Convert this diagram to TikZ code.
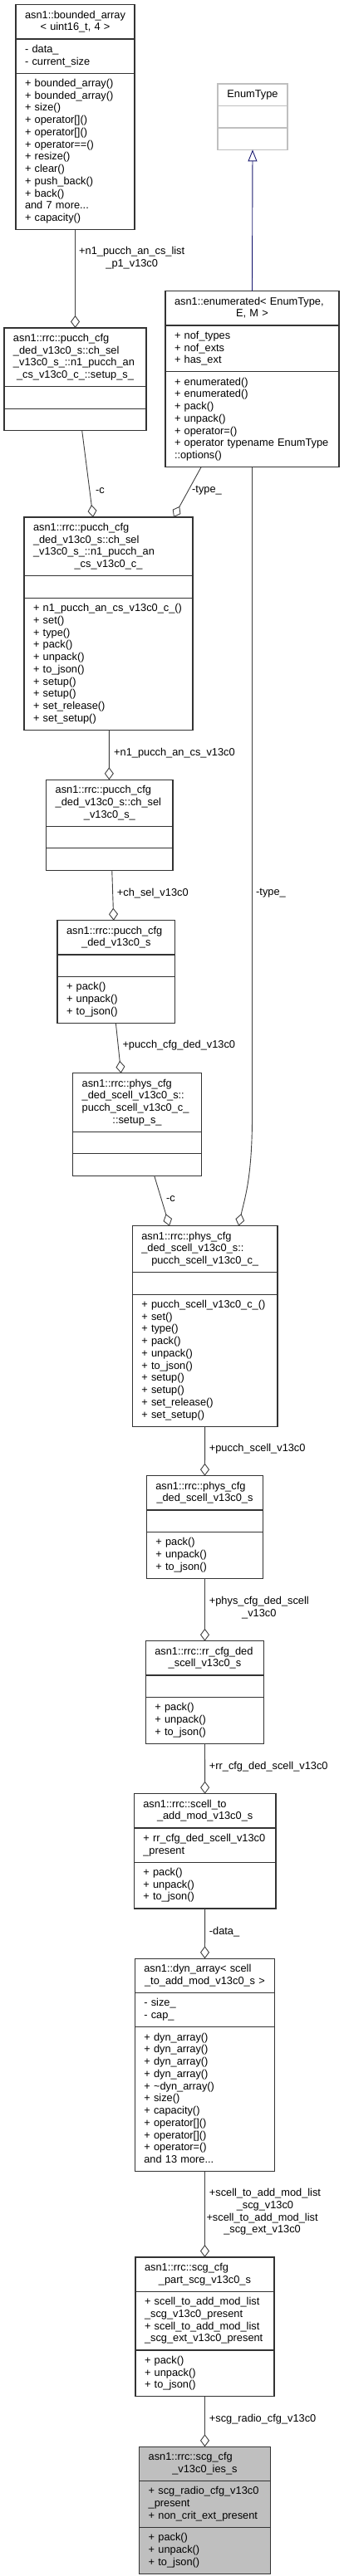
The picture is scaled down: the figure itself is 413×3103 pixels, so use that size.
\documentclass[tikz,border=0pt]{standalone}
\usepackage{fontspec}
\setmainfont{Liberation Sans}
\usetikzlibrary{shapes.multipart,arrows.meta}

\definecolor{edgegray}{HTML}{404040}
\definecolor{boxline}{HTML}{333333}
\definecolor{boxfill}{HTML}{BFBFBF}
\definecolor{inhblue}{HTML}{191970}

% one text row of a class box: left or centred
\newcommand\rowstrut{\rule[-4.25pt]{0pt}{14.75pt}}
\newcommand\lrow[1]{\hbox to\linewidth{\rowstrut#1\hss}}
\newcommand\crow[1]{\hbox to\linewidth{\hss\rowstrut#1\hss}}
\newcommand\rows[1]{\vbox{#1}}

\begin{document}
\begin{tikzpicture}[x=1pt,y=-1pt,
  classbox/.style={rectangle split, rectangle split parts=3, draw=boxline,
    line width=1.2pt, fill=white, anchor=north west, inner xsep=11pt,
    inner ysep=5.25pt, outer sep=0pt, text width=#1,
    font=\fontsize{12.8pt}{14.75pt}\selectfont},
  lbl/.style={anchor=west, inner sep=0pt, align=center,
    font=\fontsize{12.8pt}{14.75pt}\selectfont},
  aggr/.style={draw=edgegray, line width=.9pt,
    -{Diamond[open, length=15pt, width=11pt]}},
  inherit/.style={draw=inhblue, line width=.9pt,
    -{Triangle[open, length=14pt, width=11pt]}}]
% Page
\path[fill=white] (0,0) rectangle (413,3103);
% Classes, top to bottom
\node[classbox=121pt] (barray) at (19,5.7) {\rows{\lrow{asn1::bounded\_array}\crow{< uint16\_t, 4 >}}
  \nodepart{two}\rows{\lrow{- data\_}\lrow{- current\_size}}
  \nodepart{three}\rows{\lrow{+ bounded\_array()}\lrow{+ bounded\_array()}\lrow{+ size()}
    \lrow{+ operator[]()}\lrow{+ operator[]()}\lrow{+ operator==()}\lrow{+ resize()}
    \lrow{+ clear()}\lrow{+ push\_back()}\lrow{+ back()}\lrow{and 7 more...}\lrow{+ capacity()}}};
\node[classbox=62pt, draw=boxfill] (enumtype) at (262,101) {\rows{\crow{EnumType}}
  \nodepart{two}\rows{\lrow{}}
  \nodepart{three}\rows{\lrow{}}};
\node[classbox=187pt] (enumd) at (199,350.7) {\rows{\lrow{asn1::enumerated< EnumType,}\crow{E, M >}}
  \nodepart{two}\rows{\lrow{+ nof\_types}\lrow{+ nof\_exts}\lrow{+ has\_ext}}
  \nodepart{three}\rows{\lrow{+ enumerated()}\lrow{+ enumerated()}\lrow{+ pack()}\lrow{+ unpack()}
    \lrow{+ operator=()}\lrow{+ operator typename EnumType}\lrow{::options()}}};
\node[classbox=149pt] (ncsetup) at (5,395) {\rows{\lrow{asn1::rrc::pucch\_cfg}\lrow{\_ded\_v13c0\_s::ch\_sel}
    \lrow{\_v13c0\_s\_::n1\_pucch\_an}\crow{\_cs\_v13c0\_c\_::setup\_s\_}}
  \nodepart{two}\rows{\lrow{}}
  \nodepart{three}\rows{\lrow{}}};
\node[classbox=181pt] (ncchoice) at (29,623) {\rows{\lrow{asn1::rrc::pucch\_cfg}\lrow{\_ded\_v13c0\_s::ch\_sel}
    \lrow{\_v13c0\_s\_::n1\_pucch\_an}\crow{\_cs\_v13c0\_c\_}}
  \nodepart{two}\rows{\lrow{}}
  \nodepart{three}\rows{\lrow{+ n1\_pucch\_an\_cs\_v13c0\_c\_()}\lrow{+ set()}\lrow{+ type()}
    \lrow{+ pack()}\lrow{+ unpack()}\lrow{+ to\_json()}\lrow{+ setup()}\lrow{+ setup()}
    \lrow{+ set\_release()}\lrow{+ set\_setup()}}};
\node[classbox=130.3pt] (chsel) at (55.7,939.3) {\rows{\lrow{asn1::rrc::pucch\_cfg}\lrow{\_ded\_v13c0\_s::ch\_sel}
    \crow{\_v13c0\_s\_}}
  \nodepart{two}\rows{\lrow{}}
  \nodepart{three}\rows{\lrow{}}};
\node[classbox=119.7pt] (pucchded) at (69,1108.7) {\rows{\lrow{asn1::rrc::pucch\_cfg}\crow{\_ded\_v13c0\_s}}
  \nodepart{two}\rows{\lrow{}}
  \nodepart{three}\rows{\lrow{+ pack()}\lrow{+ unpack()}\lrow{+ to\_json()}}};
\node[classbox=132.6pt] (scsetup) at (87.7,1292.7) {\rows{\lrow{asn1::rrc::phys\_cfg}\lrow{\_ded\_scell\_v13c0\_s::}
    \lrow{pucch\_scell\_v13c0\_c\_}\crow{::setup\_s\_}}
  \nodepart{two}\rows{\lrow{}}
  \nodepart{three}\rows{\lrow{}}};
\node[classbox=152.7pt] (scchoice) at (159.3,1476.7) {\rows{\lrow{asn1::rrc::phys\_cfg}\lrow{\_ded\_scell\_v13c0\_s::}
    \crow{pucch\_scell\_v13c0\_c\_}}
  \nodepart{two}\rows{\lrow{}}
  \nodepart{three}\rows{\lrow{+ pucch\_scell\_v13c0\_c\_()}\lrow{+ set()}\lrow{+ type()}
    \lrow{+ pack()}\lrow{+ unpack()}\lrow{+ to\_json()}\lrow{+ setup()}\lrow{+ setup()}
    \lrow{+ set\_release()}\lrow{+ set\_setup()}}};
\node[classbox=118.4pt] (physded) at (176.3,1777.7) {\rows{\lrow{asn1::rrc::phys\_cfg}\crow{\_ded\_scell\_v13c0\_s}}
  \nodepart{two}\rows{\lrow{}}
  \nodepart{three}\rows{\lrow{+ pack()}\lrow{+ unpack()}\lrow{+ to\_json()}}};
\node[classbox=120.4pt] (rrded) at (175.3,1976.7) {\rows{\lrow{asn1::rrc::rr\_cfg\_ded}\crow{\_scell\_v13c0\_s}}
  \nodepart{two}\rows{\lrow{}}
  \nodepart{three}\rows{\lrow{+ pack()}\lrow{+ unpack()}\lrow{+ to\_json()}}};
\node[classbox=148.7pt] (scelladd) at (161.3,2160.7) {\rows{\lrow{asn1::rrc::scell\_to}\crow{\_add\_mod\_v13c0\_s}}
  \nodepart{two}\rows{\lrow{+ rr\_cfg\_ded\_scell\_v13c0}\lrow{\_present}}
  \nodepart{three}\rows{\lrow{+ pack()}\lrow{+ unpack()}\lrow{+ to\_json()}}};
\node[classbox=146.4pt] (dynarr) at (162.3,2359.3) {\rows{\lrow{asn1::dyn\_array< scell}\crow{\_to\_add\_mod\_v13c0\_s >}}
  \nodepart{two}\rows{\lrow{- size\_}\lrow{- cap\_}}
  \nodepart{three}\rows{\lrow{+ dyn\_array()}\lrow{+ dyn\_array()}\lrow{+ dyn\_array()}\lrow{+ dyn\_array()}
    \lrow{+ \textasciitilde dyn\_array()}\lrow{+ size()}\lrow{+ capacity()}\lrow{+ operator[]()}
    \lrow{+ operator[]()}\lrow{+ operator=()}\lrow{and 13 more...}}};
\node[classbox=145pt] (scgpart) at (163,2719) {\rows{\lrow{asn1::rrc::scg\_cfg}\crow{\_part\_scg\_v13c0\_s}}
  \nodepart{two}\rows{\lrow{+ scell\_to\_add\_mod\_list}\lrow{\_scg\_v13c0\_present}
    \lrow{+ scell\_to\_add\_mod\_list}\lrow{\_scg\_ext\_v13c0\_present}}
  \nodepart{three}\rows{\lrow{+ pack()}\lrow{+ unpack()}\lrow{+ to\_json()}}};
\node[classbox=135.6pt, fill=boxfill] (scgies) at (167.7,2947.3) {\rows{\lrow{asn1::rrc::scg\_cfg}\crow{\_v13c0\_ies\_s}}
  \nodepart{two}\rows{\lrow{+ scg\_radio\_cfg\_v13c0}\lrow{\_present}\lrow{+ non\_crit\_ext\_present}}
  \nodepart{three}\rows{\lrow{+ pack()}\lrow{+ unpack()}\lrow{+ to\_json()}}};
% Inheritance
\draw[inherit] (enumd.north) -- (enumtype.south);
% Members
\draw[aggr] (barray.south) -- (ncsetup.north);
\draw[aggr] ([xshift=8.2pt]ncsetup.south) -- ([xshift=-18.5pt]ncchoice.north);
\draw[aggr] ([xshift=-61.5pt]enumd.south) -- ([xshift=78.5pt]ncchoice.north);
\draw[aggr] ([xshift=0.8pt]ncchoice.south) -- ([xshift=-0.5pt]chsel.north);
\draw[aggr] ([xshift=2.9pt]chsel.south) -- ([xshift=-3.1pt]pucchded.north);
\draw[aggr] ([xshift=-0.5pt]pucchded.south) -- ([xshift=-19.3pt]scsetup.north);
\draw[aggr] ([xshift=20.7pt]scsetup.south) -- ([xshift=-42.7pt]scchoice.north);
\draw[aggr] (enumd.south) -- (303.5,1345) .. controls (303.5,1420) and (294,1445) .. ([xshift=40.6pt]scchoice.north);
\draw[aggr] (scchoice.south) -- (physded.north);
\draw[aggr] (physded.south) -- (rrded.north);
\draw[aggr] (rrded.south) -- (scelladd.north);
\draw[aggr] (scelladd.south) -- (dynarr.north);
\draw[aggr] (dynarr.south) -- (scgpart.north);
\draw[aggr] (scgpart.south) -- (scgies.north);
% Member names
\node[lbl] (lbcs) at (95,311) {+n1\_pucch\_an\_cs\_list\\\_p1\_v13c0};
\node[lbl] (lcone) at (115,591) {-c};
\node[lbl] (ltypeone) at (231,591) {-type\_};
\node[lbl] (lncs) at (137,906.7) {+n1\_pucch\_an\_cs\_v13c0};
\node[lbl] (ltypetwo) at (308,1075.7) {-type\_};
\node[lbl] (lchsel) at (140.7,1075.7) {+ch\_sel\_v13c0};
\node[lbl] (lpucch) at (147.3,1259.3) {+pucch\_cfg\_ded\_v13c0};
\node[lbl] (lctwo) at (200,1444) {-c};
\node[lbl] (lscell) at (251.7,1745) {+pucch\_scell\_v13c0};
\node[lbl] (lphys) at (251.7,1936.5) {+phys\_cfg\_ded\_scell\\\_v13c0};
\node[lbl] (lrr) at (251.7,2127.7) {+rr\_cfg\_ded\_scell\_v13c0};
\node[lbl] (ldata) at (251.7,2326.7) {-data\_};
\node[lbl] (lscg) at (251.7,2649.8) {+scell\_to\_add\_mod\_list\\\_scg\_v13c0};
\node[lbl] (lscgext) at (248.3,2679.2) {+scell\_to\_add\_mod\_list\\\_scg\_ext\_v13c0};
\node[lbl] (lradio) at (251.7,2914.3) {+scg\_radio\_cfg\_v13c0};
\end{tikzpicture}
\end{document}
